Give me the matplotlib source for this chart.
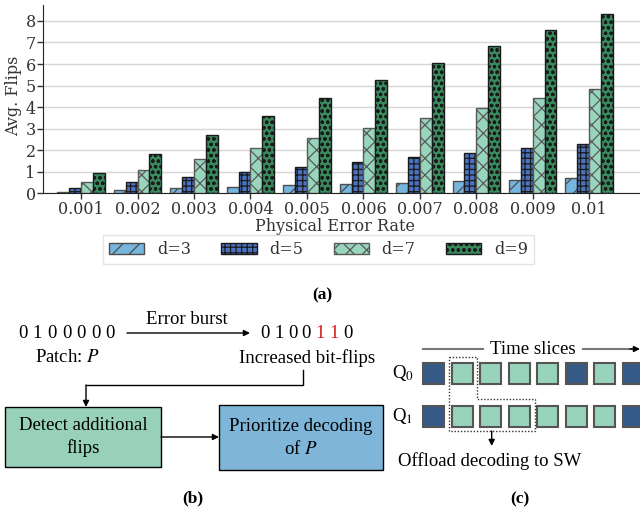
import numpy as np
import matplotlib.pyplot as plt
from matplotlib.patches import Rectangle, Polygon

rates = ["0.001", "0.002", "0.003", "0.004", "0.005",
         "0.006", "0.007", "0.008", "0.009", "0.01"]
d3 = [0.07, 0.14, 0.23, 0.28, 0.37, 0.43, 0.49, 0.55, 0.62, 0.69]
d5 = [0.26, 0.51, 0.74, 0.98, 1.21, 1.44, 1.69, 1.89, 2.10, 2.30]
d7 = [0.54, 1.07, 1.57, 2.08, 2.57, 3.04, 3.50, 3.97, 4.41, 4.86]
d9 = [0.93, 1.83, 2.71, 3.57, 4.41, 5.25, 6.05, 6.84, 7.58, 8.33]
labels = ["d=3", "d=5", "d=7", "d=9"]

bits_before = [0, 1, 0, 0, 0, 0, 0]
bits_after = [0, 1, 0, 0, 1, 1, 0]
q0_slots = [1, 0, 0, 0, 0, 1, 0, 1]   # 1 = dark (hw), 0 = light
q1_slots = [1, 0, 0, 0, 0, 0, 0, 1]

plt.rcParams["hatch.linewidth"] = 0.9
plt.rcParams["mathtext.fontset"] = "stix"

W, H = 640, 514
fig = plt.figure(figsize=(6.4, 5.14), dpi=100)

# ---------------- (a) bar chart ----------------
ax = fig.add_axes([43.3 / W, 1 - 193.3 / H, (W - 43.3) / W, (193.3 - 5) / H])
series = [d3, d5, d7, d9]
colors = ["#76b5dd", "#4a72c0", "#98d5bd", "#388a5c"]
edges = ["0.3", "0.1", "0.35", "0.1"]
hatches = ["//", "+++", "xx", "ooo"]
x = np.arange(len(rates))
bw = 0.21
for i, vals in enumerate(series):
    ax.bar(x + (i - 1.5) * bw, vals, bw, color=colors[i], edgecolor=edges[i],
           hatch=hatches[i], linewidth=1, label=labels[i], zorder=3)

txt = "#333333"
ax.set_xlim(-0.67, 9.9)
ax.set_ylim(0, 8.74)
ax.set_yticks(range(9))
ax.set_xticks(x)
ax.set_xticklabels(rates)
ax.grid(axis="y", color="#d6d6d6", linewidth=1, zorder=0)
for s in ["top", "right"]:
    ax.spines[s].set_visible(False)
ax.spines["left"].set_color("#222222")
ax.spines["bottom"].set_color("#222222")
ax.tick_params(labelsize=11.5, colors=txt, length=4, width=1, pad=1.5)
for lab in ax.get_xticklabels() + ax.get_yticklabels():
    lab.set_family("DejaVu Serif")
ax.set_ylabel("Avg. Flips", family="DejaVu Serif", fontsize=11.5, color=txt)
ax.set_xlabel("Physical Error Rate", family="DejaVu Serif", fontsize=11.5, color=txt)
ax.yaxis.set_label_coords(-0.036, 0.52)
ax.xaxis.set_label_coords(0.489, -0.132)

fig.legend(loc="center", bbox_to_anchor=(318.5 / W, 1 - 249.5 / H), ncol=4,
           prop={"family": "DejaVu Serif", "size": 11.5}, labelcolor=txt,
           frameon=True, fancybox=False, edgecolor="#dddddd",
           columnspacing=1.9, handlelength=2.2, borderpad=0.4)

# ---------------- diagrams (pixel coordinates) ----------------
d = fig.add_axes([0, 0, 1, 1])
d.set_xlim(0, W)
d.set_ylim(H, 0)
d.axis("off")

serif = "Liberation Serif"
fs = 13.5

def arrow(x0, y0, x1, y1, col="black"):
    d.annotate("", xy=(x1, y1), xytext=(x0, y0),
               arrowprops=dict(arrowstyle="-|>", color=col, lw=1,
                               mutation_scale=9, shrinkA=0, shrinkB=0))

d.text(322, 295, "(a)", family=serif, weight="bold", fontsize=12.5,
       ha="center", va="center")

# (b)
for k, b in enumerate(bits_before):
    d.text(23 + k * 14.5, 333, str(b), family=serif, fontsize=fs,
           ha="center", va="center")
d.text(67, 358, "Patch: $P$", family=serif, fontsize=fs, ha="center", va="center")
arrow(127, 333, 250, 333)
d.text(187, 319, "Error burst", family=serif, fontsize=fs, ha="center", va="center")
for k, b in enumerate(bits_after):
    col = "#d42020" if b != bits_before[k] else "black"
    d.text(265 + k * 13.8, 333, str(b), family=serif, fontsize=fs, color=col,
           ha="center", va="center")
d.text(307, 358, "Increased bit-flips", family=serif, fontsize=fs,
       ha="center", va="center")
d.plot([303, 303, 86], [370, 385, 385], color="black", lw=1)
arrow(86, 385, 86, 407)

d.add_patch(Rectangle((5, 407), 156, 60, facecolor="#98d1b9", edgecolor="black", lw=1))
d.text(83, 437, "Detect additional\nflips", family=serif, fontsize=fs,
       ha="center", va="center", linespacing=1.3)
arrow(161, 437, 219, 437)
d.add_patch(Rectangle((219, 405), 164, 65, facecolor="#7fb5d8", edgecolor="black", lw=1))
d.text(301, 438, "Prioritize decoding\nof $P$", family=serif, fontsize=fs,
       ha="center", va="center", linespacing=1.3)
d.text(193, 498, "(b)", family=serif, weight="bold", fontsize=12.5,
       ha="center", va="center")

# (c)
d.text(533, 349, "Time slices", family=serif, fontsize=fs, ha="center", va="center")
d.plot([423, 483], [349, 349], color="#777777", lw=1.5)
d.plot([583, 634], [349, 349], color="#777777", lw=1.5)
arrow(630, 349, 640, 349)
d.text(403, 373, "Q$_0$", family=serif, fontsize=fs, ha="center", va="center")
d.text(403, 416, "Q$_1$", family=serif, fontsize=fs, ha="center", va="center")
for row, slots in [(362.7, q0_slots), (406, q1_slots)]:
    for k, s in enumerate(slots):
        fc = "#365a88" if s else "#98d3bb"
        d.add_patch(Rectangle((423.3 + k * 28.5, row), 21, 21.3, facecolor=fc,
                              edgecolor="#555555", lw=1.5))
d.add_patch(Polygon([(449.3, 356.7), (476.7, 356.7), (476.7, 399), (535, 399),
                     (535, 431), (449.3, 431)], closed=True, fill=False,
                    edgecolor="#333333", lw=1, linestyle=(0, (1, 1.3))))
arrow(491.7, 431, 491.7, 446)
d.text(490, 461, "Offload decoding to SW", family=serif, fontsize=fs,
       ha="center", va="center")
d.text(520, 499, "(c)", family=serif, weight="bold", fontsize=12.5,
       ha="center", va="center")

fig.savefig("out.png", dpi=100)
